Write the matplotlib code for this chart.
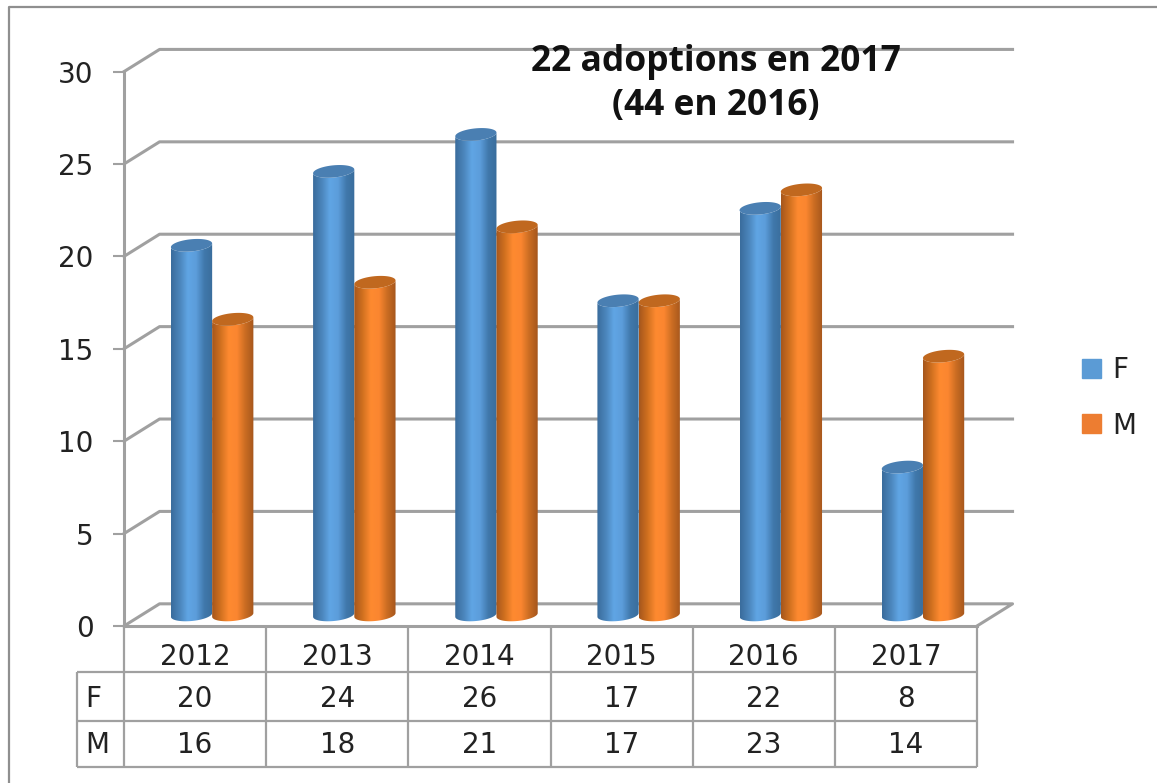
import matplotlib
matplotlib.use("Agg")
import matplotlib.pyplot as plt
import numpy as np
from matplotlib.colors import LinearSegmentedColormap
from matplotlib.lines import Line2D
from matplotlib.patches import Patch, Polygon

plt.rcParams["font.family"] = "DejaVu Sans"

years = ["2012", "2013", "2014", "2015", "2016", "2017"]
f_values = [20, 24, 26, 17, 22, 8]
m_values = [16, 18, 21, 17, 23, 14]
y_ticks = [0, 5, 10, 15, 20, 25, 30]

GREY = "#a0a0a0"
TEXT = "#222222"
DEPTH_X = 0.25
DEPTH_Y = 1.2
FLOOR = 0.6
BAR_W = 0.29
RX_F = 0.475
RX_M = 0.765
ELL = 0.33
TILT = 0.1
FS = 20

blue_cmap = LinearSegmentedColormap.from_list("b", ["#3a6c9c", "#4a84ba", "#60a5e4", "#5c9ddb", "#4078ab", "#3a6d9c"])
orange_cmap = LinearSegmentedColormap.from_list("o", ["#a5561d", "#d0701f", "#fe8a30", "#fb8630", "#c96c22", "#a5561d"])


def cylinder(ax, x0, value, cmap, top_color):
    t = np.linspace(0, np.pi, 60)
    xc = x0 + BAR_W / 2
    rx = BAR_W / 2
    top = value + FLOOR
    # bottom edge then top edge of the body
    bx = xc - rx * np.cos(t)
    by = FLOOR - ELL * np.sin(t) - TILT * np.cos(t)
    tx = xc + rx * np.cos(t)
    ty = top - ELL * np.sin(t) + TILT * np.cos(t)
    body = Polygon(np.column_stack([np.r_[bx, tx], np.r_[by, ty]]), closed=True, fc="none", ec="none", zorder=3)
    ax.add_patch(body)
    grad = np.linspace(0, 1, 128).reshape(1, -1)
    im = ax.imshow(grad, cmap=cmap, aspect="auto", extent=[x0, x0 + BAR_W, FLOOR - ELL - TILT, top + ELL], zorder=3)
    im.set_clip_path(body)
    t2 = np.linspace(0, 2 * np.pi, 80)
    ax.fill(xc + rx * np.cos(t2), top + ELL * np.sin(t2) + TILT * np.cos(t2), color=top_color, lw=0, zorder=3)


fig = plt.figure(figsize=(11.57, 7.83), dpi=100)
ax = fig.add_axes([124 / 1157, 1 - 626 / 783, 853 / 1157, 554.4 / 783])

# back wall gridlines
for v in y_ticks:
    if v > 0:
        ax.plot([0, DEPTH_X, 6 + DEPTH_X], [v, v + DEPTH_Y, v + DEPTH_Y], color=GREY, lw=2.2, zorder=1, clip_on=False)
ax.plot([0, DEPTH_X, 6 + DEPTH_X, 6], [0, DEPTH_Y, DEPTH_Y, 0], color=GREY, lw=2.2, zorder=1, clip_on=False)

for i in range(len(years)):
    cylinder(ax, i + RX_F - BAR_W / 2, f_values[i], blue_cmap, "#4a7fb2")
    cylinder(ax, i + RX_M - BAR_W / 2, m_values[i], orange_cmap, "#c0681f")

ax.set_xlim(0, 6)
ax.set_ylim(0, 30)
ax.patch.set_visible(False)
for s in ["top", "right"]:
    ax.spines[s].set_visible(False)
for s in ["left", "bottom"]:
    ax.spines[s].set_color(GREY)
    ax.spines[s].set_linewidth(2.2)
ax.set_xticks([])
ax.set_yticks(y_ticks)
ax.tick_params(axis="y", length=8, width=1.5, color=GREY, pad=14, labelsize=FS, labelcolor=TEXT)

# data table under the plot
row_y = [-2.5, -5.15, -7.65]
ax.vlines(range(7), row_y[-1], 0, color=GREY, lw=1.6, clip_on=False)
ax.vlines(-0.33, row_y[-1], row_y[0], color=GREY, lw=1.6, clip_on=False)
ax.hlines(row_y, -0.33, 6, color=GREY, lw=1.6, clip_on=False)
for i in range(len(years)):
    ax.text(i + 0.5, -1.7, years[i], ha="center", va="center", fontsize=FS, color=TEXT)
    ax.text(i + 0.5, -3.95, str(f_values[i]), ha="center", va="center", fontsize=FS, color=TEXT)
    ax.text(i + 0.5, -6.42, str(m_values[i]), ha="center", va="center", fontsize=FS, color=TEXT)
ax.text(-0.27, -3.95, "F", ha="left", va="center", fontsize=FS, color=TEXT)
ax.text(-0.27, -6.42, "M", ha="left", va="center", fontsize=FS, color=TEXT)

fig.text(716 / 1157, 1 - 84 / 783, "22 adoptions en 2017\n(44 en 2016)", ha="center", va="center",
         fontsize=25.5, fontweight="bold", family="Open Sans", color="#111111", linespacing=1.3, zorder=6)

handles = [Patch(color="#5b9bd5", label="F"), Patch(color="#ed7d31", label="M")]
fig.legend(handles=handles, loc="center left", bbox_to_anchor=(1057 / 1157, 1 - 398 / 783), frameon=False,
           fontsize=FS, handlelength=0.68, handleheight=0.68, handletextpad=0.42, labelspacing=0.98,
           labelcolor=TEXT)

# chart area border: only top and left show
fig.add_artist(Line2D([9 / 1157, 9 / 1157, 1], [0, 1 - 7 / 783, 1 - 7 / 783], color="#8f8f8f", lw=1.6))

fig.savefig("out.png", dpi=100)
